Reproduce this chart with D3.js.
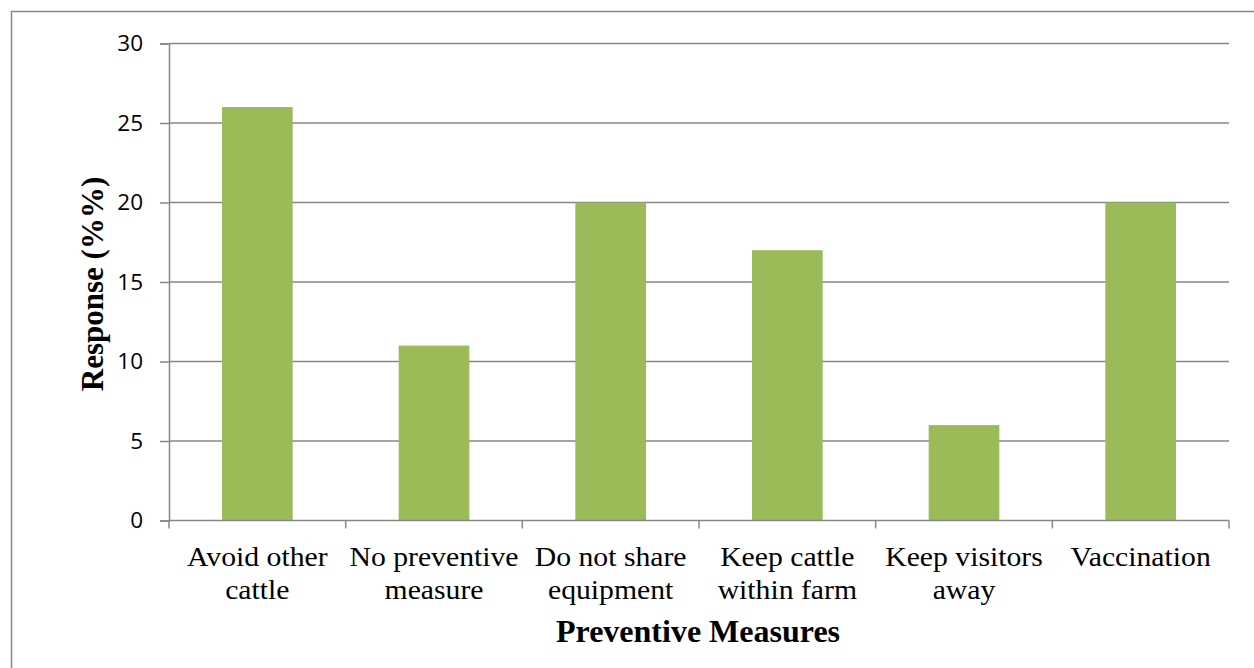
<!DOCTYPE html>
<html>
<head>
<meta charset="utf-8">
<script src="https://cdn.jsdelivr.net/npm/d3@7"></script>
<style>
  html, body { margin: 0; padding: 0; background: #ffffff; }
  svg { display: block; }
</style>
</head>
<body>
<svg id="chart" width="1254" height="668"></svg>
<script>
// Survey responses on preventive measures (percent of respondents)
const categories = [
  ["Avoid other", "cattle"],
  ["No preventive", "measure"],
  ["Do not share", "equipment"],
  ["Keep cattle", "within farm"],
  ["Keep visitors", "away"],
  ["Vaccination"]
];
const responses = [26, 11, 20, 17, 6, 20];
const yTicks = [0, 5, 10, 15, 20, 25, 30];
const xTitle = "Preventive Measures";
const yTitle = "Response (%%)";

const svg = d3.select("#chart");
const plot = { left: 169, right: 1229, top: 43.5, bottom: 520.5 };
const grid = "#878787";

// chart frame
svg.append("rect")
  .attr("x", 11.5).attr("y", 11.5)
  .attr("width", 1260).attr("height", 680)
  .attr("fill", "none").attr("stroke", grid).attr("stroke-width", 1.5);

const x = d3.scaleBand()
  .domain(d3.range(categories.length))
  .range([plot.left, plot.right])
  .paddingInner(0.6).paddingOuter(0.3);

const y = d3.scaleLinear().domain([0, 30]).range([plot.bottom, plot.top]);

// horizontal gridlines + y axis
const yAxis = svg.append("g")
  .attr("transform", `translate(${plot.left},0)`)
  .call(d3.axisLeft(y).tickValues(yTicks).tickSize(9).tickPadding(17).tickFormat(d3.format("d")));
yAxis.select(".domain").attr("stroke", grid).attr("stroke-width", 1.5);
yAxis.selectAll(".tick line").attr("stroke", grid).attr("stroke-width", 1.5);
yAxis.selectAll(".tick text")
  .attr("fill", "#000").style("font-family", "'Open Sans', 'Liberation Sans', sans-serif").style("font-size", "22.5px");

svg.append("g").selectAll("line")
  .data(yTicks.filter(d => d > 0))
  .join("line")
  .attr("x1", plot.left).attr("x2", plot.right)
  .attr("y1", d => y(d)).attr("y2", d => y(d))
  .attr("stroke", grid).attr("stroke-width", 1.5);

// bars
svg.append("g").selectAll("rect")
  .data(responses)
  .join("rect")
  .attr("x", (d, i) => x(i))
  .attr("width", x.bandwidth())
  .attr("y", d => y(d))
  .attr("height", d => y(0) - y(d))
  .attr("fill", "#9BBB59");

// category axis with ticks at band boundaries
const step = (plot.right - plot.left) / categories.length;
const bounds = d3.range(categories.length + 1).map(i => plot.left + i * step);
const xAxisG = svg.append("g");
xAxisG.append("line")
  .attr("x1", plot.left).attr("x2", plot.right)
  .attr("y1", plot.bottom).attr("y2", plot.bottom)
  .attr("stroke", grid).attr("stroke-width", 1.5);
xAxisG.selectAll("line.tk")
  .data(bounds)
  .join("line").attr("class", "tk")
  .attr("x1", d => d).attr("x2", d => d)
  .attr("y1", plot.bottom).attr("y2", plot.bottom + 8)
  .attr("stroke", grid).attr("stroke-width", 1.5);

const labels = xAxisG.selectAll("text.cat")
  .data(categories)
  .join("text").attr("class", "cat")
  .attr("transform", (d, i) => `translate(${x(i) + x.bandwidth() / 2},0) scale(1.1,1)`)
  .attr("text-anchor", "middle")
  .style("font-family", "'Liberation Serif', 'Times New Roman', serif")
  .style("font-size", "27px")
  .attr("fill", "#000");
labels.selectAll("tspan")
  .data(d => d)
  .join("tspan")
  .attr("x", 0)
  .attr("y", (d, j) => 566 + j * 33)
  .text(d => d);

// axis titles
svg.append("text")
  .attr("x", (plot.left + plot.right) / 2 - 1).attr("y", 642)
  .attr("text-anchor", "middle")
  .style("font-family", "'Liberation Serif', 'Times New Roman', serif")
  .style("font-size", "32px").style("font-weight", "bold")
  .text(xTitle);

svg.append("text")
  .attr("transform", `translate(103,${(plot.top + plot.bottom) / 2 + 2}) rotate(-90)`)
  .attr("text-anchor", "middle")
  .style("font-family", "'Liberation Serif', 'Times New Roman', serif")
  .style("font-size", "31px").style("font-weight", "bold")
  .text(yTitle);
</script>
</body>
</html>
